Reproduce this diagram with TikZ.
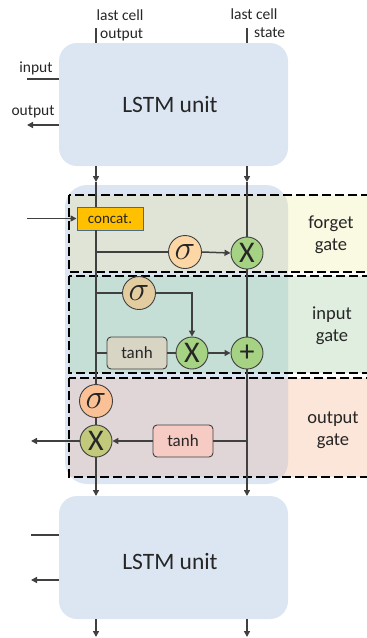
\documentclass[tikz,border=0pt]{standalone}
\usepackage{fontspec}
\setmainfont{Carlito}
\usetikzlibrary{arrows.meta}
\definecolor{boxblue}{HTML}{DCE6F2}
\definecolor{fgout}{HTML}{FAFAE2}
\definecolor{fgin}{HTML}{E0E4D6}
\definecolor{igout}{HTML}{DFEEDF}
\definecolor{igin}{HTML}{C5DED6}
\definecolor{ogout}{HTML}{FCE5D9}
\definecolor{ogin}{HTML}{E0D5D7}
\definecolor{concatfill}{HTML}{FFC000}
\definecolor{concatline}{HTML}{4A6A8A}
\definecolor{sigF}{HTML}{FDD6A5}
\definecolor{sigI}{HTML}{E3CC9F}
\definecolor{sigO}{HTML}{FAC196}
\definecolor{greenX}{HTML}{A6D283}
\definecolor{oliveX}{HTML}{C2C97B}
\definecolor{tanhI}{HTML}{D8D5C4}
\definecolor{tanhO}{HTML}{F5CBC4}
\definecolor{ln}{HTML}{404040}
\definecolor{txt}{HTML}{262626}
\newcommand{\sigsym}{\scalebox{1.4}{$\sigma$}}
\tikzset{
  unitbox/.style={fill=boxblue, rounded corners=18pt},
  conn/.style={draw=ln, line width=1.5pt},
  arr/.style={conn, -{Triangle[length=6pt,width=6pt]}},
  sig/.style={circle, draw=ln, line width=0.9pt, minimum size=33pt, inner sep=0pt, font=\fontsize{24}{24}\selectfont, text=txt},
  opc/.style={circle, draw=ln, line width=0.9pt, minimum size=32pt, inner sep=0pt, font=\fontsize{30}{30}\selectfont, text=txt},
  tanhbox/.style={draw=ln, line width=0.9pt, rounded corners=4pt, minimum width=60pt, minimum height=32pt, inner sep=0pt, font=\fontsize{17}{17}\selectfont, text=txt},
  lbl/.style={font=\fontsize{15.5}{17}\selectfont, text=txt, inner sep=0pt},
  gatelbl/.style={font=\fontsize{18.5}{22}\selectfont, text=txt, align=center, inner sep=0pt},
  bigtxt/.style={font=\fontsize{23.5}{23.5}\selectfont, text=txt},
  gateborder/.style={draw=black, line width=1.3pt, dash pattern=on 9pt off 4pt},
}
\begin{document}
\begin{tikzpicture}[x=1pt,y=-1pt]
\useasboundingbox (0,0) rectangle (367,638);
% units
\fill[unitbox] (59,43) rectangle (288,166);
\node[bigtxt] (top) at (170,104) {LSTM unit};
\fill[unitbox] (59,496) rectangle (288,619);
\node[bigtxt] (bot) at (170,561) {LSTM unit};
\coordinate (topL) at (96,166); \coordinate (topR) at (247,166);
\coordinate (botL) at (96,496); \coordinate (botR) at (247,496);
% big cell background
\fill[boxblue, rounded corners=22pt] (65,185) rectangle (288,484);
\fill[fgout] (69,195) rectangle (370,272);
\fill[igout] (69,276) rectangle (370,373);
\fill[ogout] (69,378) rectangle (370,477);
\begin{scope}
\clip[rounded corners=22pt] (65,185) rectangle (288,484);
\fill[fgin] (69,195) rectangle (370,272);
\fill[igin] (69,276) rectangle (370,373);
\fill[ogin] (69,378) rectangle (370,477);
\end{scope}
\draw[gateborder] (69,195) rectangle (370,272);
\draw[gateborder] (69,276) rectangle (370,373);
\draw[gateborder] (69,378) rectangle (370,477);
\node[gatelbl] (fgl) at (331,235) {forget\\gate};
\node[gatelbl] (igl) at (332,326) {input\\gate};
\node[gatelbl] (ogl) at (333,430) {output\\gate};
% top labels and ticks
\coordinate (tickLa) at (96,28); \coordinate (tickLb) at (96,43);
\coordinate (tickRa) at (247,28); \coordinate (tickRb) at (247,43);
\draw[conn] (tickLa) -- (tickLb);
\draw[conn] (tickRa) -- (tickRb);
\node[lbl] (lco1) at (120,15) {last cell};
\node[lbl, anchor=west] (lco2) at (100,35) {output};
\node[lbl] (lcs1) at (254,14) {last cell};
\node[lbl, anchor=west] (lcs2) at (254,33) {state};
% side in/out of top unit
\node[lbl] (inl) at (36,68) {input};
\node[lbl] (outl) at (33,112) {output};
\coordinate (inA) at (27,79); \coordinate (inB) at (59,79);
\draw[conn] (inA) -- (inB);
\coordinate (outA) at (59,125); \coordinate (outB) at (27,125);
\draw[arr] (outA) -- (outB);
% side in/out of bottom unit
\coordinate (in2A) at (31,535); \coordinate (in2B) at (59,535);
\draw[conn] (in2A) -- (in2B);
\coordinate (out2A) at (59,580); \coordinate (out2B) at (31,580);
\draw[arr] (out2A) -- (out2B);
% bottom arrows
\coordinate (endL) at (96,637); \coordinate (endR) at (247,637);
\coordinate (b2L) at (96,619); \coordinate (b2R) at (247,619);
\draw[arr] (b2L) -- (endL);
\draw[arr] (b2R) -- (endR);
% nodes of the cell
\node[draw=concatline, line width=0.9pt, fill=concatfill, minimum width=66pt, minimum height=23pt, inner sep=0pt, font=\fontsize{15}{15}\selectfont, text=txt] (concat) at (110,218.5) {concat.};
\node[sig, fill=sigF] (fs) at (185,252) {\sigsym};
\node[opc, fill=greenX] (fx) at (247,253) {X};
\node[sig, fill=sigI] (is) at (139,293) {\sigsym};
\node[tanhbox, fill=tanhI] (it) at (137,353) {tanh};
\node[opc, fill=greenX] (ix) at (192,353) {X};
\node[opc, fill=greenX, font=\fontsize{30}{30}\selectfont] (ip) at (247,353) {+};
\node[sig, fill=sigO] (os) at (96,401) {\sigsym};
\node[opc, fill=oliveX] (ox) at (96,441) {X};
\node[tanhbox, fill=tanhO] (ot) at (183,441) {tanh};
% connectors
\coordinate (midL) at (96,182); \coordinate (midR) at (247,182);
\draw[arr] (topL) -- (midL);
\draw[arr] (topR) -- (midR);
\draw[conn] (midL) -- (concat.north -| midL);
\draw[conn] (midR) -- (fx.north);
\coordinate (cin) at (27,218.5);
\draw[arr] (cin) -- (concat.west);
\draw[conn] (concat.south -| midL) -- (os.north);
\coordinate (brF) at (96,252); \coordinate (brI) at (96,293); \coordinate (brT) at (96,353);
\draw[conn] (brF) -- (fs.west);
\draw[arr] (fs.east) -- (fx.west);
\draw[conn] (brI) -- (is.west);
\coordinate (isC) at (192,293);
\draw[arr] (is.east) -- (isC) -- (ix.north);
\draw[conn] (brT) -- (it.west);
\draw[conn] (it.east) -- (ix.west);
\draw[arr] (ix.east) -- (ip.west);
\draw[conn] (fx.south) -- (ip.north);
\draw[arr] (ip.south) -- (botR);
\coordinate (brO) at (247,441);
\draw[conn] (brO) -- (ot.east);
\draw[arr] (ot.west) -- (ox.east);
\draw[conn] (os.south) -- (ox.north);
\draw[arr] (ox.south) -- (botL);
\coordinate (oout) at (31,441);
\draw[arr] (ox.west) -- (oout);
\end{tikzpicture}
\end{document}
